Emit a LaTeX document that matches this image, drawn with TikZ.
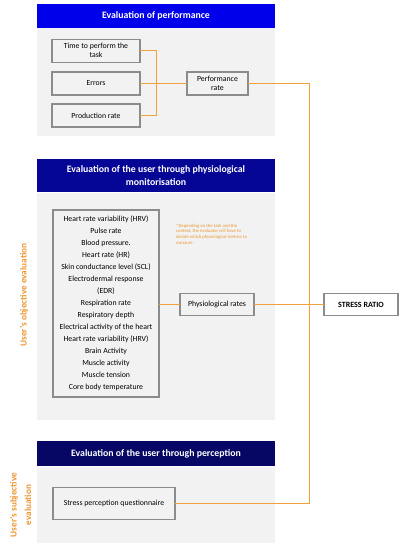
\documentclass[tikz,border=0pt]{standalone}
\usepackage{fontspec}
\setmainfont{Carlito}
\definecolor{linkorange}{RGB}{240,160,60}
\definecolor{noteorange}{RGB}{236,150,50}
\definecolor{panelgrey}{RGB}{242,242,242}
\definecolor{boxgrey}{RGB}{140,140,140}
\definecolor{headone}{RGB}{0,0,235}
\definecolor{headtwo}{RGB}{6,6,150}
\definecolor{headthree}{RGB}{6,6,100}
\begin{document}
\begin{tikzpicture}[x=1pt,y=1pt,
  head/.style={rectangle,inner sep=0.,outer sep=0.,minimum width=238,text=white,align=center,font=\fontsize{9.8}{12.6}\selectfont\bfseries},
  item box/.style={rectangle,draw=boxgrey,line width=1.1pt,inner sep=0.,outer sep=0.,align=center,font=\fontsize{7.8}{9.2}\selectfont},
  link/.style={draw=linkorange,line width=1.5pt},
  side label/.style={rotate=90,text=noteorange,align=center,font=\fontsize{9.2}{14.5}\selectfont\bfseries}]%
  \useasboundingbox (0,0) rectangle (403,-550);
  % grey panels
  \fill[panelgrey] (37,-28) rectangle (275,-136);
  \fill[panelgrey] (37,-193) rectangle (275,-420);
  \fill[panelgrey] (37,-467) rectangle (275,-543);
  % headers
  \node[head,fill=headone,minimum height=23.5] (hperf) at (156,-15.8) {Evaluation of performance};
  \node[head,fill=headtwo,minimum height=33] (hphys) at (156,-175.5) {Evaluation of the user through physiological\\monitorisation};
  \node[head,fill=headthree,minimum height=25] (hperc) at (156,-453.5) {Evaluation of the user through perception};
  % performance
  \node[item box,minimum width=88,minimum height=23] (task) at (96,-50.7) {Time to perform the\\task};
  \node[item box,minimum width=88,minimum height=23] (errors) at (96,-83.5) {Errors};
  \node[item box,minimum width=88,minimum height=23] (prod) at (96,-115.5) {Production rate};
  \node[item box,minimum width=61,minimum height=23] (perf) at (217.5,-83.5) {Performance\\rate};
  % physiological
  \node[item box,minimum width=106,minimum height=187,font=\fontsize{7.8}{12}\selectfont] (metrics) at (106,-303.5) {Heart rate variability (HRV)\\Pulse rate\\Blood pressure.\\Heart rate (HR)\\Skin conductance level (SCL)\\Electrodermal response\\(EDR)\\Respiration rate\\Respiratory depth\\Electrical activity of the heart\\Heart rate variability (HRV)\\Brain Activity\\Muscle activity\\Muscle tension\\Core body temperature};
  \node[item box,minimum width=74,minimum height=22] (physrates) at (217,-304.5) {Physiological rates};
  \node[anchor=north west,inner sep=0.,text=noteorange,align=left,font=\fontsize{4.7}{5.8}\selectfont] (note) at (176,-223.5) {*Depending on the task and the\\context, the evaluator will have to\\decide which physiological metrics to\\measure};
  \node[item box,minimum width=74,minimum height=22,fill=white,font=\fontsize{8}{9}\selectfont\bfseries] (stress) at (361,-304.5) {STRESS RATIO};
  % perception
  \node[item box,minimum width=122,minimum height=32] (quest) at (114,-503.5) {Stress perception questionnaire};
  % side labels
  \node[side label] (objective) at (24,-295) {User's objective evaluation};
  \node[side label] (subjective) at (20.5,-505) {User's subjective\\evaluation};
  % connectors
  \coordinate (brk) at (156.5,-83.5);
  \draw[link] (task.east) -| (brk) |- (prod.east);
  \draw[link] (errors.east) -- (perf.west);
  \draw[link] (perf.east) -- ++(61.5,0) |- (quest.east);
  \draw[link] (metrics.east |- physrates.west) -- (physrates.west);
  \draw[link] (physrates.east) -- (stress.west);
\end{tikzpicture}
\end{document}
